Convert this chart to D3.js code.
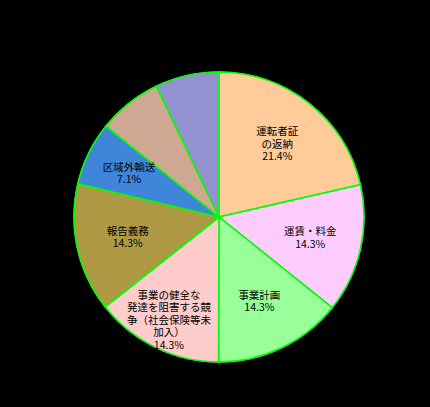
<!DOCTYPE html>
<html><head><meta charset="utf-8">
<script src="https://cdn.jsdelivr.net/npm/d3@7"></script>
<style>html,body{margin:0;padding:0;background:#000;}svg{display:block;}</style>
</head><body>
<svg id="c" width="430" height="407"></svg>
<script>
const categories = ["運転者証の返納","運賃・料金","事業計画","事業の健全な発達を阻害する競争（社会保険等未加入）","報告義務","区域外輸送","その他1","その他2"];
const values = [21.4,14.3,14.3,14.3,14.3,7.1,7.1,7.1];
const labelLines = [
  ["運転者証","の返納","21.4%"],
  ["運賃・料金","14.3%"],
  ["事業計画","14.3%"],
  ["事業の健全な","発達を阻害する競","争（社会保険等未","加入）","14.3%"],
  ["報告義務","14.3%"],
  ["区域外輸送","7.1%"],
  [],
  []
];
const colors = ["#FFCC99","#FFCCFF","#99FF99","#FFCCCC","#B09944","#3F86D9","#CFA894","#9292D1"];

const svg = d3.select("#c");
const cx=219, cy=217, R=145;
const g = svg.append("g").attr("transform",`translate(${cx},${cy})`);
const pie = d3.pie().sort(null).value(d=>d)(values);
const arc = d3.arc().innerRadius(0).outerRadius(R);
g.append("circle").attr("r",R+0.8).attr("fill","#888");
g.selectAll("path.s").data(pie).enter().append("path").attr("class","s")
  .attr("d",arc).attr("fill",(d,i)=>colors[i])
  .attr("stroke","#00FF00").attr("stroke-width",1.6).attr("stroke-linejoin","miter");

const labelFactor = i => i===3 ? 0.79 : (i===5 ? 0.69 : 0.645);
const lh = 12.4;
pie.forEach((d,i)=>{
  const lines = labelLines[i];
  if(!lines.length) return;
  const a = (d.startAngle+d.endAngle)/2;
  const r = R*labelFactor(i);
  const x = r*Math.sin(a), y = -r*Math.cos(a);
  const y0 = y - (lines.length-1)*lh/2;
  lines.forEach((s,k)=>{
    g.append("text").attr("text-anchor","middle")
      .attr("font-family","'Noto Sans CJK JP','Noto Sans',sans-serif")
      .attr("font-size","10.5px").attr("fill","#000")
      .attr("x",x).attr("y",y0+k*lh).attr("dy","0.36em").text(s);
  });
});
</script>
</body></html>
